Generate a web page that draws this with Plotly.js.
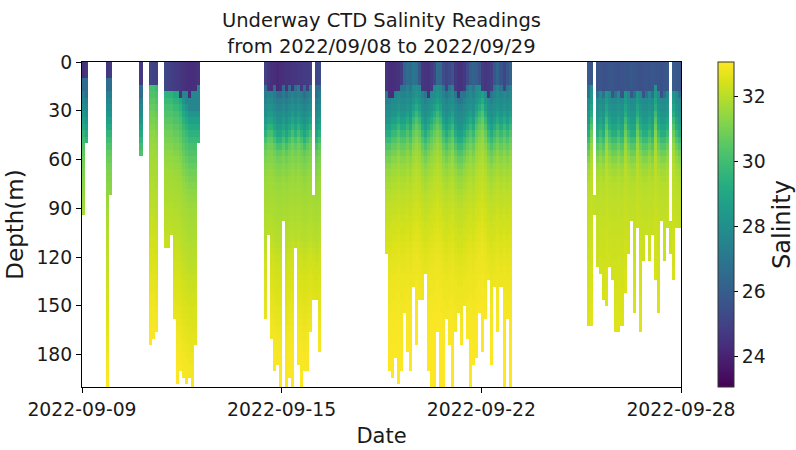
<!DOCTYPE html>
<html>
<head>
<meta charset="utf-8">
<script src="https://cdn.plot.ly/plotly-3.0.1.min.js"></script>
<style>
  html, body { margin: 0; padding: 0; background: #fff; }
  #chart { width: 796px; height: 450px; }
</style>
</head>
<body>
<div id="chart"></div>
<script>
// ---- Survey time axis -------------------------------------------------------
const startDate = '2022-09-09';
const dateTicks = ['2022-09-09 00:00', '2022-09-15 14:24', '2022-09-22 04:48', '2022-09-28 19:12'];
const dateLabels = ['2022-09-09', '2022-09-15', '2022-09-22', '2022-09-28'];
const depthTicks = [0, 30, 60, 90, 120, 150, 180];
const salinityTicks = [24, 26, 28, 30, 32];

// ---- Sampling depths (m) ----------------------------------------------------
// Near-surface readings, then the profile levels below them.
const surfaceDepths = [0, 4, 8, 12];
const profileDepths = [16, 20, 24, 28, 32, 36, 40, 44, 48, 52,
                       56, 60, 64, 68, 72, 76, 80, 84, 88, 92,
                       96, 100, 104, 108, 112, 116, 120, 124, 128, 132,
                       136, 140, 144, 148, 152, 156, 160, 164, 168, 172,
                       176, 180, 184, 188, 192, 196, 200];

// ---- Salinity below the mixed layer, one profile per leg (at profileDepths) ----
const profileLeg1 = [26.6, 27.3, 27.6, 27.9, 28.3, 28.7, 29.1, 29.6, 30.0, 30.3,
                     30.6, 30.8, 31.0, 31.1, 31.2, 31.3, 31.4, 31.5, 31.6, 31.7,
                     31.8, 31.85, 31.9, 31.95, 32.0, 32.05, 32.1, 32.15, 32.2, 32.25,
                     32.3, 32.35, 32.4, 32.45, 32.5, 32.55, 32.6, 32.65, 32.7, 32.75,
                     32.8, 32.85, 32.9, 32.95, 33.0, 33.0, 33.05];
const profileLeg2 = [27.6, 28.2, 28.7, 29.1, 29.5, 29.8, 30.1, 30.3, 30.5, 30.7,
                     30.9, 31.05, 31.2, 31.35, 31.45, 31.55, 31.65, 31.7, 31.75, 31.8,
                     31.85, 31.9, 31.95, 32.0, 32.05, 32.1, 32.2, 32.25, 32.3, 32.35,
                     32.4, 32.45, 32.5, 32.55, 32.6, 32.65, 32.7, 32.75, 32.8, 32.85,
                     32.9, 32.9, 32.95, 33.0, 33.0, 33.05, 33.06];
const profileLeg3 = [26.6, 27.2, 27.5, 27.8, 28.1, 28.5, 28.9, 29.5, 30.1, 30.6,
                     30.9, 31.1, 31.25, 31.4, 31.5, 31.6, 31.65, 31.7, 31.75, 31.8,
                     31.85, 31.9, 31.95, 32.0, 32.1, 32.2, 32.3, 32.35, 32.4, 32.45,
                     32.5, 32.55, 32.6, 32.65, 32.7, 32.75, 32.8, 32.85, 32.9, 32.9,
                     32.95, 33.0, 33.0, 33.0, 33.05, 33.05, 33.06];
const profileLeg4 = [27.0, 27.5, 27.8, 28.0, 28.3, 28.7, 29.2, 29.8, 30.3, 30.7,
                     31.0, 31.3, 31.5, 31.65, 31.8, 31.9, 32.0, 32.1, 32.15, 32.2,
                     32.3, 32.35, 32.4, 32.45, 32.55, 32.6, 32.65, 32.7, 32.75, 32.8,
                     32.8, 32.85, 32.85, 32.9, 32.9, 32.95, 32.95, 33.0, 33.0, 33.0,
                     33.05, 33.05, 33.05, 33.06, 33.06, 33.06, 33.06];
const profileLeg5 = [26.8, 27.8, 28.0, 28.2, 28.5, 28.9, 29.3, 29.9, 30.4, 30.8,
                     31.2, 31.5, 31.7, 31.85, 31.95, 32.0, 32.05, 32.1, 32.1, 32.15,
                     32.2, 32.2, 32.25, 32.25, 32.3, 32.3, 32.35, 32.35, 32.4, 32.4,
                     32.45, 32.45, 32.5, 32.5, 32.55, 32.55, 32.6, 32.6, 32.65, 32.65,
                     32.7, 32.7, 32.75, 32.75, 32.8, 32.8, 32.8];

// ---- Casts ---------------------------------------------------------------------
// day: days after startDate; bottom: deepest reading (m); surface: mixed-layer
// salinity; mixed: mixed-layer base (m); shift: profile offset in levels
const leg1Days    = [0.05, 0.15, 0.85, 0.95, 1.95];
const leg1Bottom  = [93, 48, 200, 82, 58];
const leg1Surface = [24.4, 24.6, 24.6, 24.8, 24.7];
const leg1Mixed   = [8, 8, 8, 8, 12];
const leg1Shift   = [0, 1, 0, 0, 1];

const leg2Days    = [2.25, 2.35, 2.45, 2.75, 2.85, 2.95, 3.05, 3.15, 3.25, 3.35, 3.45, 3.55, 3.65, 3.75, 3.85];
const leg2Bottom  = [173, 168, 166, 114, 114, 104, 158, 196, 187, 193, 198, 191, 199, 174, 48];
const leg2Surface = [25.1, 25.0, 24.9, 25.2, 25.0, 24.9, 24.8, 24.7, 24.6, 24.5, 24.4, 24.3, 24.3, 24.4, 24.5];
const leg2Mixed   = [12, 12, 12, 16, 16, 16, 16, 16, 20, 16, 16, 20, 16, 16, 12];
const leg2Shift   = [-6, -6, -5, -3, -3, -3, -2, -2, -1, 1, 2, 3, 3, 3, 3];

const leg3Days    = [6.05, 6.15, 6.25, 6.35, 6.45, 6.55, 6.65, 6.75, 6.85, 6.95,
                     7.05, 7.15, 7.25, 7.35, 7.45, 7.55, 7.65, 7.75, 7.85];
const leg3Bottom  = [158, 104, 170, 188, 185, 200, 98, 200, 193, 200,
                     114, 185, 200, 190, 188, 164, 145, 145, 176];
const leg3Surface = [24.9, 24.6, 24.4, 24.3, 24.2, 24.3, 24.4, 24.5, 24.5, 24.6,
                     24.6, 24.7, 24.7, 24.8, 24.8, 24.9, 25.0, 25.2, 25.3];
const leg3Mixed   = [12, 16, 16, 12, 16, 16, 12, 16, 12, 16,
                     12, 12, 16, 12, 16, 12, 16, 12, 12];
const leg3Shift   = [0, -1, -1, 0, 1, 1, 0, 1, 0, -1,
                     0, -1, 0, 1, 0, -1, 0, 1, 0];

const leg4Days    = [10.05, 10.15, 10.25, 10.35, 10.45, 10.55, 10.65, 10.75, 10.85, 10.95,
                     11.05, 11.15, 11.25, 11.35, 11.45, 11.55, 11.65, 11.75, 11.85, 11.95,
                     12.05, 12.15, 12.25, 12.35, 12.45, 12.55, 12.65, 12.75, 12.85, 12.95,
                     13.05, 13.15, 13.25, 13.35, 13.45, 13.55, 13.65, 13.75, 13.85, 13.95,
                     14.05, 14.15];
const leg4Bottom  = [118, 188, 192, 182, 195, 187, 151, 178, 187, 137,
                     172, 145, 144, 128, 190, 200, 200, 166, 200, 200,
                     158, 174, 200, 164, 154, 172, 148, 169, 200, 186,
                     182, 152, 175, 156, 134, 186, 136, 166, 137, 200,
                     158, 200];
const leg4Surface = [24.5, 24.3, 24.3, 24.4, 24.5, 24.8, 26.3, 26.6, 26.5, 27.0,
                     26.8, 25.8, 24.6, 24.5, 24.5, 24.7, 25.2, 26.5, 26.4, 25.4,
                     25.1, 25.3, 25.6, 24.7, 24.5, 24.5, 24.7, 25.3, 26.0, 26.2,
                     26.0, 25.6, 24.8, 24.6, 24.7, 24.9, 25.8, 26.3, 25.6, 25.2,
                     25.8, 26.2];
const leg4Mixed   = [16, 20, 20, 16, 16, 12, 12, 12, 12, 12,
                     12, 12, 16, 16, 20, 16, 12, 12, 12, 12,
                     16, 12, 12, 16, 20, 16, 16, 12, 12, 12,
                     12, 12, 16, 16, 20, 16, 12, 12, 12, 16,
                     12, 12];
const leg4Shift   = [1, 1, 0, 0, -1, 0, 0, -1, 0, -2,
                     -3, -2, 0, 1, 0, -1, -2, -3, -2, 0,
                     1, 0, -1, 1, 2, 2, 1, 0, -1, 0,
                     -2, -3, -4, -2, 0, 1, 0, -1, 0, -1,
                     0, -1];

const leg5Days    = [16.75, 16.85, 16.95, 17.05, 17.15, 17.25, 17.35, 17.45, 17.55, 17.65,
                     17.75, 17.85, 17.95, 18.05, 18.15, 18.25, 18.35, 18.45, 18.55, 18.65,
                     18.75, 18.85, 18.95, 19.05, 19.15, 19.25, 19.35, 19.45, 19.55, 19.65,
                     19.75];
const leg5Bottom  = [160, 160, 92, 124, 128, 144, 149, 123, 133, 163,
                     165, 162, 139, 116, 96, 151, 99, 165, 119, 105,
                     122, 104, 131, 152, 97, 122, 99, 115, 134, 102,
                     100];
const leg5Surface = [25.9, 25.7, 25.8, 25.6, 25.7, 25.5, 25.6, 25.7, 25.8, 25.6,
                     25.5, 25.6, 25.7, 25.6, 25.8, 25.7, 25.6, 25.5, 25.6, 25.7,
                     25.6, 25.8, 25.7, 25.6, 25.5, 25.7, 25.8, 25.7, 25.9, 25.8,
                     25.7];
const leg5Mixed   = [12, 12, 12, 16, 16, 16, 16, 16, 20, 16,
                     16, 20, 16, 16, 20, 16, 16, 16, 20, 16,
                     16, 16, 12, 16, 20, 16, 16, 20, 16, 16,
                     16];
const leg5Shift   = [1, -2, 0, 1, 0, 1, -2, 0, 1, 1,
                     0, 1, -2, 0, 1, 1, -2, 0, 1, 1,
                     0, 1, -3, 0, 1, 1, 0, 1, -2, 0,
                     1];

// Casts whose upper readings are missing, and the depth where readings begin (m)
const gapDays      = [7.65, 16.95, 19.45];
const gapTopDepths = [84, 84, 98];

// ---- Build the depth x time grid ------------------------------------------------
const legs = [
  { days: leg1Days, bottom: leg1Bottom, surface: leg1Surface, mixed: leg1Mixed, shift: leg1Shift, profile: profileLeg1 },
  { days: leg2Days, bottom: leg2Bottom, surface: leg2Surface, mixed: leg2Mixed, shift: leg2Shift, profile: profileLeg2 },
  { days: leg3Days, bottom: leg3Bottom, surface: leg3Surface, mixed: leg3Mixed, shift: leg3Shift, profile: profileLeg3 },
  { days: leg4Days, bottom: leg4Bottom, surface: leg4Surface, mixed: leg4Mixed, shift: leg4Shift, profile: profileLeg4 },
  { days: leg5Days, bottom: leg5Bottom, surface: leg5Surface, mixed: leg5Mixed, shift: leg5Shift, profile: profileLeg5 }
];

const depths = surfaceDepths.concat(profileDepths);
const dayStep = 0.1;          // width of one cast column (days)
const spanDays = 19.8;
const nCols = Math.round(spanDays / dayStep);
const startMs = Date.parse(startDate + 'T00:00:00Z');

function toDateString(ms) {
  return new Date(ms).toISOString().replace('T', ' ').slice(0, 19);
}

const xCenters = [];
for (let k = 0; k < nCols; k++) {
  xCenters.push(toDateString(startMs + (k + 0.5) * dayStep * 86400000));
}

const z = depths.map(() => new Array(nCols).fill(null));
legs.forEach(leg => {
  leg.days.forEach((day, i) => {
    const col = Math.floor(day / dayStep + 1e-9);
    let top = -Infinity;
    gapDays.forEach((g, j) => { if (Math.abs(g - day) < 1e-6) top = gapTopDepths[j]; });
    depths.forEach((d, r) => {
      if (d > leg.bottom[i] + 1 || d <= top - 2) return;
      let v;
      if (d <= leg.mixed[i]) {
        v = leg.surface[i];
      } else {
        let idx = r - surfaceDepths.length - leg.shift[i];
        idx = Math.max(0, Math.min(leg.profile.length - 1, idx));
        v = leg.profile[idx];
      }
      z[r][col] = v;
    });
  });
});

// ---- Plot ---------------------------------------------------------------------------
const FONT = 'DejaVu Sans, Liberation Sans, sans-serif';
const INK = '#1a1a1a';

const trace = {
  type: 'heatmap',
  x: xCenters,
  y: depths,
  z: z,
  coloraxis: 'coloraxis',
  hoverinfo: 'skip',
  zsmooth: false
};

const axisCommon = {
  showline: true,
  linecolor: '#000',
  linewidth: 1,
  mirror: true,
  ticks: 'outside',
  ticklen: 5,
  tickwidth: 1,
  tickcolor: '#000',
  showgrid: false,
  zeroline: false,
  tickfont: { family: FONT, size: 18.8, color: INK }
};

const layout = {
  width: 796,
  height: 450,
  margin: { l: 82, r: 115, t: 62, b: 63, autoexpand: false },
  paper_bgcolor: '#fff',
  plot_bgcolor: '#fff',
  font: { family: FONT, color: INK },
  title: {
    text: 'Underway CTD Salinity Readings<br>from 2022/09/08 to 2022/09/29',
    x: 0.5, xref: 'paper', xanchor: 'center',
    y: 0.939, yref: 'container', yanchor: 'top',
    font: { family: FONT, size: 19.5, color: INK }
  },
  xaxis: Object.assign({}, axisCommon, {
    type: 'date',
    range: [dateTicks[0], dateTicks[3]],
    tickmode: 'array',
    tickvals: dateTicks,
    ticktext: dateLabels,
    title: { text: 'Date', font: { family: FONT, size: 21, color: INK }, standoff: 9 }
  }),
  yaxis: Object.assign({}, axisCommon, {
    range: [200, 0],
    tickmode: 'array',
    tickvals: depthTicks,
    title: { text: 'Depth(m)', font: { family: FONT, size: 23, color: INK }, standoff: 6 }
  }),
  coloraxis: {
    colorscale: 'Viridis',
    cmin: 23.06,
    cmax: 33.06,
    colorbar: {
      x: 1.062, xanchor: 'left', xpad: 0,
      y: 0.5, yanchor: 'middle', ypad: 0,
      len: 1, lenmode: 'fraction',
      thickness: 16,
      outlinecolor: '#333', outlinewidth: 1,
      ticks: 'outside', ticklen: 4, tickcolor: '#000',
      tickmode: 'array', tickvals: salinityTicks,
      tickfont: { family: FONT, size: 18.8, color: INK },
      title: { text: 'Salinity', side: 'right', font: { family: FONT, size: 24, color: INK } }
    }
  }
};

Plotly.newPlot('chart', [trace], layout, { displayModeBar: false, staticPlot: true });
</script>
</body>
</html>
